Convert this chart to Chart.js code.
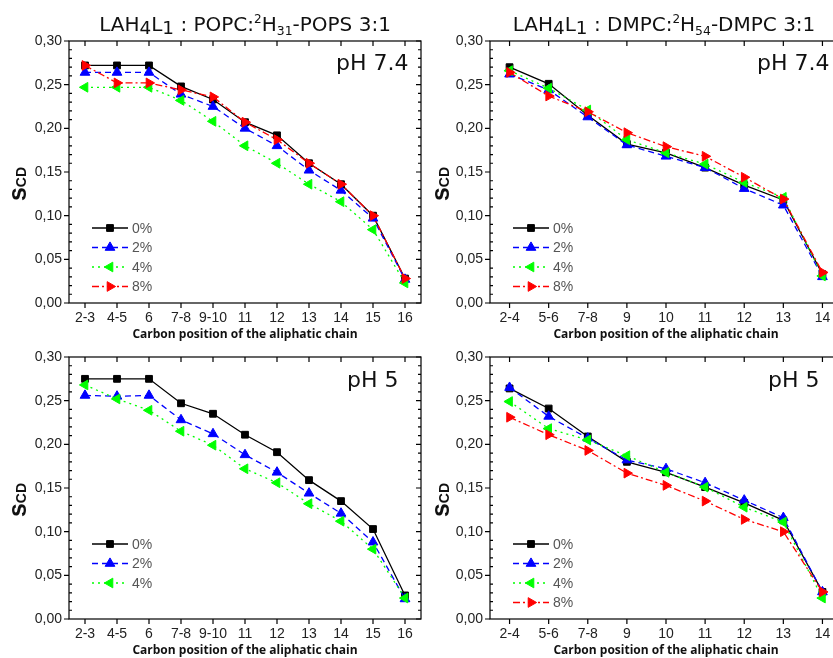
<!DOCTYPE html>
<html>
<head>
<meta charset="utf-8">
<script src="https://cdn.jsdelivr.net/npm/chart.js@4.4.1/dist/chart.umd.min.js"></script>
<style>
  html, body { margin: 0; padding: 0; background: #fff; overflow: hidden; }
  #page { position: relative; width: 833px; height: 658px; overflow: hidden; }
  canvas { position: absolute; }
  .title { position: absolute; font-family: 'DejaVu Sans'; font-size: 20px; line-height: 24px; white-space: nowrap; color: #111; transform: translateX(-50%); }
  .low { position: relative; top: 3px; font-size: 0.92em; }
  .sup { position: relative; top: -8px; font-size: 0.6em; }
  .sub { position: relative; top: 4px; font-size: 0.62em; }
  .ph { position: absolute; font-family: 'DejaVu Sans'; font-size: 22px; line-height: 26px; color: #111; white-space: nowrap; }
  .ytitle { position: absolute; width: 44px; height: 28px; line-height: 28px; text-align: center; font-family: 'Liberation Sans'; font-weight: bold; font-size: 25px; color: #111; transform: rotate(-90deg); white-space: nowrap; }
  .ytitle span { font-size: 14px; }
</style>
</head>
<body>
<div id="page">
  <canvas id="tl" width="431" height="342" style="left:0px;top:0px"></canvas>
  <canvas id="tr" width="431" height="342" style="left:421px;top:0px"></canvas>
  <canvas id="bl" width="431" height="342" style="left:0px;top:316px"></canvas>
  <canvas id="br" width="431" height="342" style="left:421px;top:316px"></canvas>

  <div class="title" style="left:245px;top:12px">LAH<span class="low">4</span>L<span class="low">1</span> : POPC:<span class="sup">2</span>H<span class="sub">31</span>-POPS 3:1</div>
  <div class="title" style="left:664px;top:12px">LAH<span class="low">4</span>L<span class="low">1</span> : DMPC:<span class="sup">2</span>H<span class="sub">54</span>-DMPC 3:1</div>

  <div class="ph" style="left:336px;top:50px">pH 7.4</div>
  <div class="ph" style="left:757px;top:50px">pH 7.4</div>
  <div class="ph" style="left:347px;top:367px">pH 5</div>
  <div class="ph" style="left:768px;top:367px">pH 5</div>

  <div class="ytitle" style="left:-5px;top:170px">s<span>CD</span></div>
  <div class="ytitle" style="left:418px;top:170px">s<span>CD</span></div>
  <div class="ytitle" style="left:-5px;top:486px">s<span>CD</span></div>
  <div class="ytitle" style="left:418px;top:486px">s<span>CD</span></div>
</div>
<script>
// categories
const popcCats = ['2-3', '4-5', '6', '7-8', '9-10', '11', '12', '13', '14', '15', '16'];
const dmpcCats = ['2-4', '5-6', '7-8', '9', '10', '11', '12', '13', '14'];
const seriesNames = ['0%', '2%', '4%', '8%'];

// POPC:POPS, pH 7.4
const popc74_0 = [0.272, 0.272, 0.272, 0.248, 0.233, 0.207, 0.192, 0.160, 0.136, 0.100, 0.028];
const popc74_2 = [0.264, 0.264, 0.264, 0.239, 0.225, 0.200, 0.180, 0.152, 0.129, 0.097, 0.027];
const popc74_4 = [0.247, 0.247, 0.247, 0.232, 0.208, 0.180, 0.160, 0.136, 0.116, 0.084, 0.023];
const popc74_8 = [0.272, 0.252, 0.252, 0.244, 0.236, 0.207, 0.187, 0.160, 0.136, 0.100, 0.028];

// DMPC, pH 7.4
const dmpc74_0 = [0.270, 0.251, 0.215, 0.182, 0.172, 0.155, 0.135, 0.118, 0.033];
const dmpc74_2 = [0.262, 0.244, 0.213, 0.181, 0.168, 0.155, 0.131, 0.112, 0.030];
const dmpc74_4 = [0.266, 0.246, 0.221, 0.187, 0.172, 0.159, 0.138, 0.121, 0.031];
const dmpc74_8 = [0.264, 0.237, 0.219, 0.195, 0.179, 0.168, 0.144, 0.119, 0.035];

// POPC:POPS, pH 5
const popc5_0 = [0.275, 0.275, 0.275, 0.247, 0.235, 0.211, 0.191, 0.159, 0.135, 0.103, 0.027];
const popc5_2 = [0.256, 0.255, 0.256, 0.228, 0.212, 0.188, 0.168, 0.144, 0.121, 0.088, 0.023];
const popc5_4 = [0.268, 0.252, 0.239, 0.215, 0.199, 0.172, 0.156, 0.132, 0.112, 0.080, 0.024];

// DMPC, pH 5
const dmpc5_0 = [0.264, 0.241, 0.209, 0.180, 0.168, 0.151, 0.133, 0.113, 0.031];
const dmpc5_2 = [0.265, 0.232, 0.207, 0.182, 0.172, 0.156, 0.136, 0.116, 0.031];
const dmpc5_4 = [0.249, 0.218, 0.205, 0.187, 0.168, 0.151, 0.128, 0.111, 0.024];
const dmpc5_8 = [0.231, 0.211, 0.193, 0.167, 0.153, 0.135, 0.114, 0.100, 0.031];

const seriesColors = ['#000000', '#0000ff', '#00ff00', '#ff0000'];
const seriesDash = [[], [6, 4], [2, 4], [7, 3, 2, 3]];
const seriesMarker = ['rect', 'triangle', 'triangle', 'triangle'];
const seriesRotation = [0, 0, -90, 90];
const seriesRadius = [4.8, 5.6, 5.6, 5.6];

// box, inward/outward ticks like the original plot
const frameTicks = {
    id: 'frameTicks',
    beforeDatasetsDraw(chart) {
        const { ctx, chartArea: { left, right, top, bottom }, scales: { x, y } } = chart;
        ctx.save();
        ctx.strokeStyle = '#000';
        ctx.lineWidth = 1.2;
        ctx.strokeRect(left, top, right - left, bottom - top);
        ctx.beginPath();
        x.ticks.forEach((t, i) => {
            const px = x.getPixelForTick(i);
            ctx.moveTo(px, bottom); ctx.lineTo(px, bottom + 5);
            ctx.moveTo(px, top); ctx.lineTo(px, top + 5);
        });
        for (let k = 0; k <= 30; k++) {
            const py = y.getPixelForValue(k / 100);
            if (k % 5 === 0) {
                ctx.moveTo(left - 5, py); ctx.lineTo(left, py);
                ctx.moveTo(right, py); ctx.lineTo(right - 5, py);
            } else {
                ctx.moveTo(left, py); ctx.lineTo(left + 3, py);
                ctx.moveTo(right, py); ctx.lineTo(right - 3, py);
            }
        }
        ctx.stroke();
        ctx.restore();
    }
};

// legend drawn inside the plot, lower left
const insideLegend = {
    id: 'insideLegend',
    afterDatasetsDraw(chart) {
        const { ctx, chartArea } = chart;
        ctx.save();
        chart.data.datasets.forEach((ds, i) => {
            const y = chartArea.top + 187 + i * 19.5;
            const x0 = chartArea.left + 23;
            const x1 = chartArea.left + 59;
            ctx.strokeStyle = ds.borderColor;
            ctx.lineWidth = ds.borderWidth;
            ctx.setLineDash(ds.borderDash);
            ctx.beginPath();
            ctx.moveTo(x0, y);
            ctx.lineTo(x1, y);
            ctx.stroke();
            ctx.setLineDash([]);
            ctx.fillStyle = ds.backgroundColor;
            ctx.lineWidth = 1;
            Chart.helpers.drawPoint(ctx, {
                pointStyle: ds.pointStyle,
                rotation: ds.pointRotation,
                radius: ds.pointRadius,
                borderWidth: 1
            }, (x0 + x1) / 2, y);
            ctx.fillStyle = '#555';
            ctx.font = '14px "Liberation Sans"';
            ctx.textBaseline = 'middle';
            ctx.textAlign = 'left';
            ctx.fillText(ds.label, x1 + 4, y + 1);
        });
        ctx.restore();
    }
};

function makePanel(id, cats, seriesList) {
    const datasets = seriesList.map((values, i) => ({
        label: seriesNames[i],
        data: values,
        borderColor: seriesColors[i],
        backgroundColor: seriesColors[i],
        borderWidth: 1.3,
        borderDash: seriesDash[i],
        pointStyle: seriesMarker[i],
        pointRotation: seriesRotation[i],
        pointRadius: seriesRadius[i],
        pointBorderWidth: 1,
        pointBorderColor: seriesColors[i],
        pointBackgroundColor: seriesColors[i],
        tension: 0,
        order: seriesList.length - i
    }));

    new Chart(document.getElementById(id), {
        type: 'line',
        data: { labels: cats, datasets: datasets },
        options: {
            responsive: false,
            animation: false,
            devicePixelRatio: 1,
            layout: { padding: { top: 41, right: 10, left: 0, bottom: 0 } },
            plugins: {
                legend: { display: false },
                tooltip: { enabled: false }
            },
            scales: {
                x: {
                    type: 'category',
                    offset: true,
                    grid: { display: false, drawTicks: false },
                    border: { display: false },
                    ticks: {
                        color: '#222',
                        font: { family: 'Liberation Sans', size: 14 },
                        padding: 7,
                        autoSkip: false,
                        maxRotation: 0
                    },
                    title: {
                        display: true,
                        text: 'Carbon position of the aliphatic chain',
                        color: '#111',
                        font: { family: 'Open Sans', size: 12, weight: 'bold' },
                        padding: 0
                    },
                    afterFit(scale) { scale.height = 39; }
                },
                y: {
                    min: 0,
                    max: 0.3,
                    grid: { display: false, drawTicks: false },
                    border: { display: false },
                    ticks: {
                        stepSize: 0.05,
                        color: '#222',
                        font: { family: 'Liberation Sans', size: 14 },
                        padding: 7,
                        callback: v => v.toFixed(2).replace('.', ',')
                    },
                    afterFit(scale) { scale.width = 69; }
                }
            }
        },
        plugins: [frameTicks, insideLegend]
    });
}

makePanel('tl', popcCats, [popc74_0, popc74_2, popc74_4, popc74_8]);
makePanel('tr', dmpcCats, [dmpc74_0, dmpc74_2, dmpc74_4, dmpc74_8]);
makePanel('bl', popcCats, [popc5_0, popc5_2, popc5_4]);
makePanel('br', dmpcCats, [dmpc5_0, dmpc5_2, dmpc5_4, dmpc5_8]);
</script>
</body>
</html>
